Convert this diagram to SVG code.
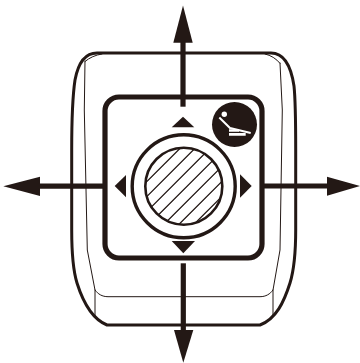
<svg xmlns="http://www.w3.org/2000/svg" width="360" height="363" viewBox="0 0 360 363">
<style>
.k{fill:#231815;stroke:none}
.o{fill:none;stroke:#231815;stroke-linejoin:round;stroke-linecap:round}
.a{fill:none;stroke:#231815;stroke-width:5.200}
</style>
<defs>
<clipPath id="c"><circle cx="183.800" cy="186.200" r="38.500"/></clipPath>
</defs>
<rect width="360" height="363" fill="#fff"/>
<g id="body">
<path class="o" stroke-width="3" d="M97 53H271C284 53 291 66 294 86C295.500 100 295.700 120 295.700 150V230C295.700 252 294 270 290 283C284 302 276 319 260 325H107C92 319 83 302 77 283C73 270 71.700 252 71.700 230V150C71.700 120 72 100 75 80C78 64 85 53 97 53Z"/>
<path class="o" stroke-width="1" d="M85 61L84.300 110L87.300 250L95 290C98 294 102 296.700 108 296.700H260C266 296.700 270 294 273 290L280 250L282.300 110L280 63M95 290V316M273 290V316"/>
<path class="o" stroke-width="1" d="M85 61.500Q92 55.500 102 54M280 63.300Q274 56 265 54"/>
</g>
<g id="panel"><rect class="o" stroke-width="5.200" x="105" y="97" width="157" height="161" rx="14"/></g>
<g id="dial">
<circle cx="183.700" cy="186.300" r="51.500" fill="#fff" stroke="#231815" stroke-width="3.400"/>
<circle cx="183.800" cy="186.200" r="38.500" fill="#fff" stroke="#231815" stroke-width="2.600"/>
<g clip-path="url(#c)" stroke="#231815" stroke-width="1.300" fill="none">
<path d="M138 190.400L198 130.400M138 205.300L213 130.300M138 220.300L228 130.300M143 230.300L238 135.300M148 240.300L243 145.300M158 245.300L248 155.300M168 250.300L248 170.300"/>
</g>
</g>
<g id="chair">
<circle class="k" cx="234.500" cy="124.500" r="22.500"/>
<circle cx="224.300" cy="114.300" r="2.700" fill="#fff"/>
<path d="M219.300 117.500L230 128L250.700 133" fill="none" stroke="#fff" stroke-width="2"/>
<path d="M229 129.300H239V131.700H229ZM229 133H245.700V135.700H229Z" fill="#fff"/>
</g>
<g id="direction-marks">
<path class="k" d="M171.700 127.300L183 116.700L194.300 127.300Z"/>
<path class="k" d="M171.700 241H195L183.300 253.300Z"/>
<path class="k" d="M126 175V197.300L114.700 186Z"/>
<path class="k" d="M240 174.300L251.700 186L240 197.700Z"/>
</g>
<g id="connectors">
<path class="a" d="M183 106.700V42"/><path class="k" d="M173.300 42.700L183 5.500L192.700 42.700Z"/>
<path class="a" d="M183.300 263.300V331"/><path class="k" d="M174 330H193.300L183.300 362.700Z"/>
<path class="a" d="M105 186.200H39"/><path class="k" d="M40 176.700L3.300 186.200L40 196Z"/>
<path class="a" d="M264 186H328"/><path class="k" d="M327 176.700L360 186L327 195.700Z"/>
</g>
</svg>
